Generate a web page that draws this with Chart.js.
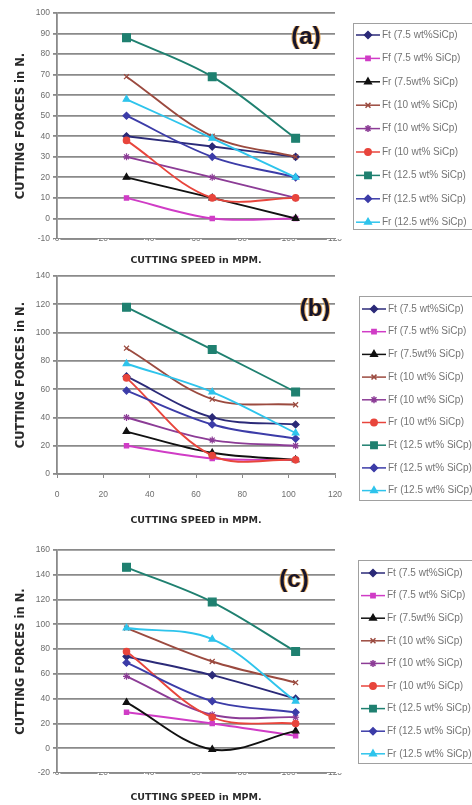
<!DOCTYPE html>
<html>
<head>
<meta charset="utf-8">
<script src="https://cdn.jsdelivr.net/npm/chart.js@4.4.1/dist/chart.umd.min.js"></script>
<style>
  html, body { margin: 0; padding: 0; background: #fff; }
  body { width: 472px; height: 805px; overflow: hidden; position: relative; }
  canvas { position: absolute; left: 0; }
</style>
</head>
<body>
<canvas id="chartA" width="472" height="268" style="top:0"></canvas>
<canvas id="chartB" width="472" height="265" style="top:268px"></canvas>
<canvas id="chartC" width="472" height="272" style="top:533px"></canvas>
<script>
// cutting speed (MPM) at which forces were measured
const speeds = [30, 67, 103];

const seriesNames = [
  'Ft (7.5 wt%SiCp)', 'Ff (7.5 wt% SiCp)', 'Fr (7.5wt% SiCp)',
  'Ft (10 wt% SiCp)', 'Ff (10 wt% SiCp)', 'Fr (10 wt% SiCp)',
  'Ft (12.5 wt% SiCp)', 'Ff (12.5 wt% SiCp)', 'Fr (12.5 wt% SiCp)'
];
const seriesColors = [
  '#2b2a78', '#d03cc6', '#111111',
  '#9b4a3f', '#8c3c96', '#e8453c',
  '#1f8070', '#3c3ca8', '#2ec4ec'
];
const seriesMarkers = ['rectRot', 'rect', 'triangle', 'crossRot', 'star', 'circle', 'rect', 'rectRot', 'triangle'];
const markerSizes = [3.5, 3, 3.8, 3.5, 3.5, 3.2, 5.5, 3.5, 3.8];

// forces in N, one row per series (same order as seriesNames), one value per speed
const forcesA = [
  [40, 35, 30], [10, 0, 0], [20, 10, 0],
  [69, 40, 30], [30, 20, 10], [38, 10, 10],
  [88, 69, 39], [50, 30, 20], [58, 39, 20]
];
const forcesB = [
  [69, 40, 35], [20, 11, 10], [30, 15, 10],
  [89, 53, 49], [40, 24, 20], [68, 13, 10],
  [118, 88, 58], [59, 35, 25], [78, 58, 29]
];
const forcesC = [
  [74, 59, 40], [29, 20, 10], [37, -1, 14],
  [97, 70, 53], [58, 27, 25], [78, 25, 20],
  [146, 118, 78], [69, 38, 29], [97, 88, 38]
];

// axis ranges: [min, max, step]
const xRange = [0, 120, 20];
const yRangeA = [-10, 100, 10];
const yRangeB = [0, 140, 20];
const yRangeC = [-20, 160, 20];

const panelTags = ['(a)', '(b)', '(c)'];

const fontFamily = '"Liberation Sans", Arial, sans-serif';
const titleFamily = '"DejaVu Sans", Verdana, sans-serif';
const gridColor = '#8a8a8a';
const tickColor = '#6e6e6e';

/**
 * Framed legend to the right of the plot, Excel style (line + marker).
 */
const boxLegend = {
  id: 'boxLegend',
  afterDraw(chart, args, opts) {
    const ctx = chart.ctx;
    ctx.save();
    ctx.strokeStyle = '#a0a0a0';
    ctx.lineWidth = 1;
    ctx.strokeRect(opts.left + 0.5, opts.top + 0.5, opts.width, opts.height);
    ctx.font = '10px ' + fontFamily;
    ctx.textBaseline = 'middle';
    chart.data.datasets.forEach((ds, i) => {
      const y = opts.firstY + i * opts.step;
      const x0 = opts.left + 3;
      const x1 = x0 + 24;
      ctx.strokeStyle = ds.borderColor;
      ctx.fillStyle = ds.backgroundColor;
      ctx.lineWidth = 1.5;
      ctx.beginPath();
      ctx.moveTo(x0, y);
      ctx.lineTo(x1, y);
      ctx.stroke();
      Chart.helpers.drawPoint(ctx, {
        pointStyle: ds.pointStyle, radius: Math.min(ds.pointRadius, 4.5), rotation: 0, borderWidth: 1
      }, (x0 + x1) / 2, y);
      ctx.fillStyle = '#747474';
      ctx.fillText(ds.label, x1 + 2, y);
    });
    ctx.restore();
  }
};

/**
 * Bold panel tag like "(a)" inside the plot.
 */
const panelTag = {
  id: 'panelTag',
  afterDatasetsDraw(chart, args, opts) {
    const ctx = chart.ctx;
    ctx.save();
    ctx.font = 'bold 24px ' + fontFamily;
    ctx.textAlign = 'center';
    ctx.textBaseline = 'middle';
    ctx.fillStyle = 'rgba(226, 150, 50, 0.8)';
    ctx.fillText(opts.text, opts.x - 1, opts.y);
    ctx.fillText(opts.text, opts.x + 1, opts.y);
    ctx.fillStyle = '#15152e';
    ctx.fillText(opts.text, opts.x, opts.y);
    ctx.restore();
  }
};

function makeChart(canvasId, forces, yRange, look) {
  const ctx = document.getElementById(canvasId).getContext('2d');
  const datasets = forces.map((vals, i) => ({
    label: seriesNames[i],
    data: vals.map((v, j) => ({ x: speeds[j], y: v })),
    borderColor: seriesColors[i],
    backgroundColor: seriesColors[i],
    pointStyle: seriesMarkers[i],
    pointRadius: markerSizes[i],
    pointBorderWidth: 1.2,
    borderWidth: 1.9,
    tension: 0.35,
    order: forces.length - i,
  }));

  const xGrid = look.xTicksBelow
    ? { drawOnChartArea: false, drawTicks: true, tickLength: 4, color: gridColor }
    : { display: false, drawTicks: false };

  return new Chart(ctx, {
    type: 'line',
    data: { datasets },
    options: {
      responsive: false,
      animation: false,
      layout: { padding: { top: look.padTop, right: 137, bottom: 0, left: 0 } },
      plugins: {
        legend: { display: false },
        tooltip: { enabled: false },
        boxLegend: look.legend,
        panelTag: look.tag,
      },
      scales: {
        x: {
          type: 'linear',
          min: xRange[0],
          max: xRange[1],
          grid: xGrid,
          border: { display: true, color: gridColor, width: 1.8 },
          ticks: {
            z: 1,
            stepSize: xRange[2],
            color: tickColor,
            font: { family: fontFamily, size: 8.5 },
            padding: look.xTickPad,
            maxRotation: 0,
            showLabelBackdrop: !look.xTicksBelow,
            backdropColor: '#ffffff',
            backdropPadding: { top: 0, bottom: 0, left: 1, right: 1 },
          },
          title: {
            display: true,
            text: 'CUTTING SPEED in MPM.',
            color: '#2a2a2a',
            font: { family: titleFamily, size: 9.5, weight: 'bold' },
            padding: { top: 0, bottom: look.xTitlePad },
          },
          afterFit: scale => { scale.height = look.xHeight; },
        },
        y: {
          min: yRange[0],
          max: yRange[1],
          grid: { color: gridColor, lineWidth: 1.8, drawTicks: true, tickLength: 4 },
          border: { display: true, color: gridColor, width: 1.8 },
          ticks: {
            stepSize: yRange[2],
            color: tickColor,
            font: { family: fontFamily, size: 8.5 },
            padding: 3,
          },
          title: {
            display: true,
            text: 'CUTTING FORCES in N.',
            color: '#2a2a2a',
            font: { family: titleFamily, size: 11.5, weight: 'bold' },
            padding: { top: 14, bottom: 0 },
          },
          afterFit: scale => { scale.width = 57; },
        },
      },
    },
    plugins: [boxLegend, panelTag],
  });
}

makeChart('chartA', forcesA, yRangeA, {
  padTop: 13, xHeight: 29, xTickPad: -5, xTitlePad: 2, xTicksBelow: false,
  legend: { left: 353, top: 23, width: 130, height: 206, firstY: 35, step: 23.4 },
  tag: { text: panelTags[0], x: 306, y: 37 },
});

makeChart('chartB', forcesB, yRangeB, {
  padTop: 8, xHeight: 59, xTickPad: 12, xTitlePad: 7, xTicksBelow: true,
  legend: { left: 359, top: 28, width: 130, height: 204, firstY: 41, step: 22.7 },
  tag: { text: panelTags[1], x: 315, y: 41 },
});

makeChart('chartC', forcesC, yRangeC, {
  padTop: 17, xHeight: 32, xTickPad: -5, xTitlePad: 2, xTicksBelow: false,
  legend: { left: 358, top: 27, width: 130, height: 203, firstY: 40, step: 22.6 },
  tag: { text: panelTags[2], x: 294, y: 47 },
});
</script>
</body>
</html>
